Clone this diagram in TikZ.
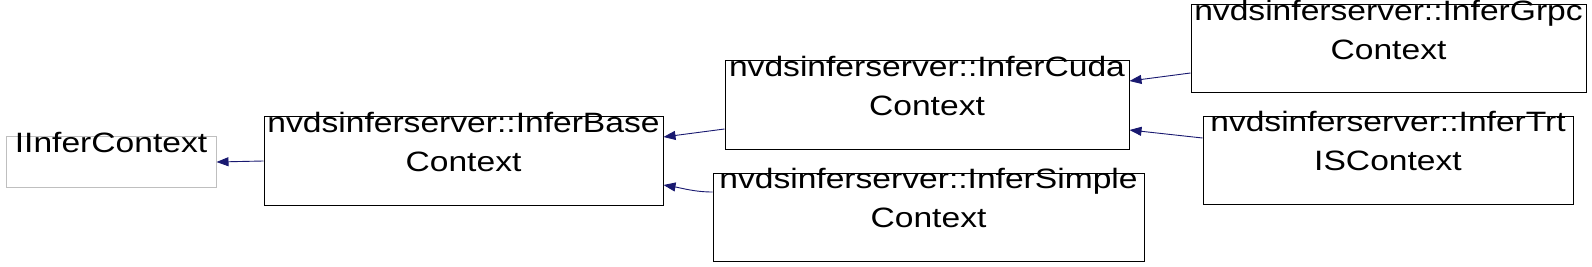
\documentclass[tikz,border=0pt]{standalone}
\usepackage{fontspec}
\setmainfont{Liberation Sans}[FakeStretch=1.2]
\usetikzlibrary{arrows.meta}
\definecolor{edgeblue}{HTML}{191970}
\definecolor{extgray}{HTML}{BFBFBF}
\begin{document}
\begin{tikzpicture}[x=1pt,y=-1pt,
    cls/.style={draw=black,line width=1pt,rectangle,inner xsep=0pt,inner ysep=-6pt,align=center,
      minimum height=88pt,font=\fontsize{28}{39}\selectfont},
    ext/.style={cls,draw=extgray,minimum height=50pt},
    inh/.style={draw=edgeblue,line width=0.9pt,{Triangle[length=12pt,width=9pt]}-}]
    \useasboundingbox (0,0) rectangle (1592,267);
    \node[ext,minimum width=210pt] (iface) at (111,162) {IInferContext\\};
    \node[cls,minimum width=399pt] (base) at (463.5,161) {nvdsinferserver::InferBase\\Context\\};
    \node[cls,minimum width=404pt] (cuda) at (927,105) {nvdsinferserver::InferCuda\\Context\\};
    \node[cls,minimum width=431pt] (simple) at (928.5,217) {nvdsinferserver::InferSimple\\Context\\};
    \node[cls,minimum width=395pt] (grpc) at (1388.5,49) {nvdsinferserver::InferGrpc\\Context\\};
    \node[cls,minimum width=370pt,minimum height=87pt] (trt) at (1388,160.5) {nvdsinferserver::InferTrt\\ISContext\\};
    % inheritance edges
    \draw[inh] (iface.east) -- (base.west);
    \draw[inh] ([yshift=24pt]base.east) -- ([yshift=-24pt]cuda.west);
    \draw[inh] ([yshift=-24pt]base.east) .. controls +(18,3) and +(-18,0) .. ([yshift=25pt]simple.west);
    \draw[inh] ([yshift=24pt]cuda.east) -- ([yshift=-24pt]grpc.west);
    \draw[inh] ([yshift=-25pt]cuda.east) -- ([yshift=22.5pt]trt.west);
\end{tikzpicture}
\end{document}
